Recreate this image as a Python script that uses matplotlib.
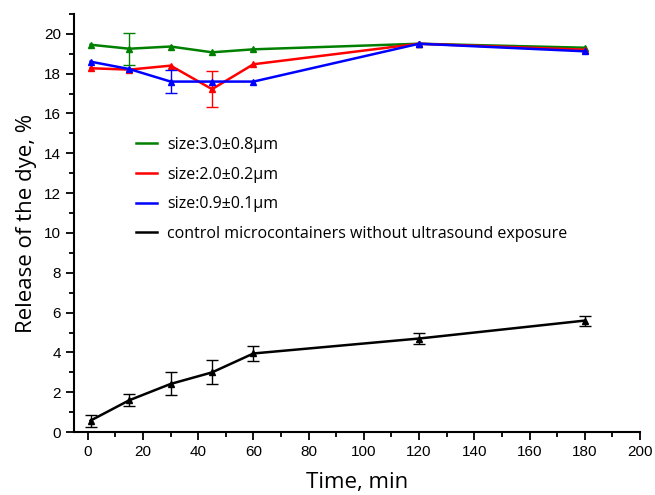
import numpy as np
import matplotlib
matplotlib.use("Agg")
import matplotlib.pyplot as plt
from matplotlib.ticker import MultipleLocator

# time points, min
time = [1, 15, 30, 45, 60, 120, 180]

# release of the dye, %
size_30 = [19.45, 19.25, 19.36, 19.07, 19.22, 19.5, 19.3]
size_30_err = [0, 0.8, 0, 0, 0, 0, 0]
size_20 = [18.27, 18.2, 18.4, 17.22, 18.47, 19.5, 19.2]
size_20_err = [0, 0, 0, 0.9, 0, 0, 0]
size_09 = [18.6, 18.23, 17.6, 17.6, 17.6, 19.5, 19.12]
size_09_err = [0, 0, 0.58, 0, 0, 0, 0]
control = [0.58, 1.6, 2.42, 3.0, 3.95, 4.7, 5.6]
control_err = [0.3, 0.3, 0.58, 0.6, 0.38, 0.28, 0.25]

labels = ["size:3.0\u00b10.8\u03bcm", "size:2.0\u00b10.2\u03bcm",
          "size:0.9\u00b10.1\u03bcm",
          "control microcontainers without ultrasound exposure"]

plt.rcParams["font.family"] = ["Liberation Sans", "DejaVu Sans"]

fig = plt.figure(figsize=(6.55, 4.95), dpi=100)
ax = fig.add_axes([0.113, 0.127, 0.864, 0.845])

series = [(size_30, size_30_err, "#008000"),
          (size_20, size_20_err, "#ff0000"),
          (size_09, size_09_err, "#0000ff"),
          (control, control_err, "#000000")]
for (y, err, c), lab in zip(series, labels):
    ax.plot(time, y, color=c, lw=1.8, marker="^", ms=5, label=lab)
    yerr = np.array(err)
    mask = yerr > 0
    ax.errorbar(np.array(time)[mask], np.array(y)[mask], yerr=yerr[mask],
                fmt="none", ecolor=c, elinewidth=1, capsize=4, capthick=1)

ax.set_xlim(-5, 200)
ax.set_ylim(0, 21)
ax.xaxis.set_major_locator(MultipleLocator(20))
ax.xaxis.set_minor_locator(MultipleLocator(10))
ax.yaxis.set_major_locator(MultipleLocator(2))
ax.yaxis.set_minor_locator(MultipleLocator(1))
ax.set_yticks(np.arange(0, 21, 2))
for side in ("top", "right"):
    ax.spines[side].set_visible(False)
for side in ("left", "bottom"):
    ax.spines[side].set_linewidth(1.5)
ax.tick_params(which="major", length=6, width=1.3, labelsize=11)
ax.tick_params(which="minor", length=3.5, width=1.3)

lab_font = {"family": ["Open Sans", "DejaVu Sans"], "size": 16}
ax.set_xlabel("Time, min", fontdict=lab_font, labelpad=9)
ax.set_ylabel("Release of the dye, %", fontdict=lab_font, labelpad=5)

ax.legend(loc="upper left", bbox_to_anchor=(0.085, 0.74), frameon=False,
          handlelength=1.3, handletextpad=0.6, labelspacing=0.85,
          prop={"family": ["Open Sans", "DejaVu Sans"], "size": 11.5},
          markerscale=0)

fig.savefig("out.png", dpi=100)
